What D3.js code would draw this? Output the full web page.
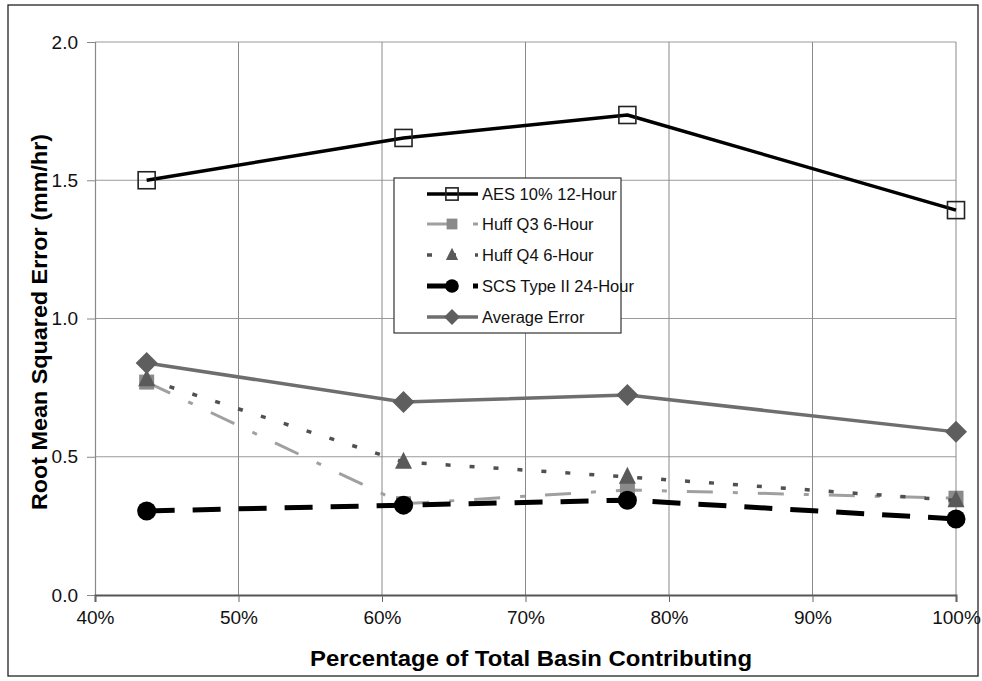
<!DOCTYPE html>
<html><head><meta charset="utf-8">
<script src="https://cdn.jsdelivr.net/npm/d3@7"></script>
<style>html,body{margin:0;padding:0;background:#fff;}svg{display:block;}</style>
</head><body>
<script>
// ---- data ----
const xValues = [43.6, 61.5, 77.1, 100];
const aes = [1.50, 1.653, 1.736, 1.392];
const huffQ3 = [0.77, 0.33, 0.38, 0.35];
const huffQ4 = [0.78, 0.481, 0.427, 0.342];
const scs = [0.304, 0.325, 0.343, 0.275];
const avgErr = [0.839, 0.698, 0.723, 0.59];
const seriesNames = ["AES 10% 12-Hour","Huff Q3 6-Hour","Huff Q4 6-Hour","SCS Type II 24-Hour","Average Error"];
const xTicks = [40,50,60,70,80,90,100];
const yTicks = [0,0.5,1.0,1.5,2.0];

const W = 982, H = 681;
const svg = d3.select("body").append("svg").attr("width", W).attr("height", H);
const font = "'Liberation Sans', Arial, Helvetica, sans-serif";

// outer frame
svg.append("rect").attr("x", 8).attr("y", 5).attr("width", 970).attr("height", 671)
  .attr("fill", "none").attr("stroke", "#222").attr("stroke-width", 1.3);

const x = d3.scaleLinear().domain([40, 100]).range([95, 956]);
const y = d3.scaleLinear().domain([0, 2]).range([595, 42]);

// gridlines
const grid = svg.append("g");
grid.selectAll("line.h").data(yTicks.filter(d=>d>0)).join("line")
  .attr("x1", x(40)).attr("x2", x(100)).attr("y1", d=>y(d)).attr("y2", d=>y(d))
  .attr("stroke", "#9a9a9a").attr("stroke-width", 1);
grid.selectAll("line.v").data(xTicks.filter(d=>d>40)).join("line")
  .attr("x1", d=>x(d)).attr("x2", d=>x(d)).attr("y1", y(0)).attr("y2", y(2))
  .attr("stroke", "#8a8a8a").attr("stroke-width", 1);

// axes
const yAxis = d3.axisLeft(y).tickValues(yTicks).tickFormat(d3.format(".1f")).tickSize(8).tickPadding(9);
const gy = svg.append("g").attr("transform", `translate(${x(40)},0)`).call(yAxis);
gy.select(".domain").attr("stroke", "#888").attr("stroke-width", 1.2);
gy.selectAll(".tick line").attr("stroke", "#888");
gy.selectAll("text").attr("font-family", font).attr("font-size", 19).attr("fill", "#111");

const xAxis = d3.axisBottom(x).tickValues(xTicks).tickFormat(d=>d+"%").tickSize(7).tickPadding(9);
const gx = svg.append("g").attr("transform", `translate(0,${y(0)})`).call(xAxis);
gx.select(".domain").attr("stroke", "#555").attr("stroke-width", 2);
gx.selectAll(".tick line").attr("stroke", "#666");
gx.selectAll("text").attr("font-family", font).attr("font-size", 19).attr("fill", "#111");

// axis titles
svg.append("text").attr("x", 531).attr("y", 666).attr("text-anchor", "middle")
  .attr("font-family", font).attr("font-weight", "bold").attr("font-size", 22).attr("fill", "#000")
  .attr("textLength", 442).attr("lengthAdjust", "spacingAndGlyphs")
  .text("Percentage of Total Basin Contributing");
svg.append("text").attr("transform", `translate(47,322) rotate(-90)`).attr("text-anchor", "middle")
  .attr("font-family", font).attr("font-weight", "bold").attr("font-size", 22).attr("fill", "#000")
  .attr("textLength", 376).attr("lengthAdjust", "spacingAndGlyphs")
  .text("Root Mean Squared Error (mm/hr)");

// series definitions
const series = [
  {name: seriesNames[0], vals: aes, stroke: "#000", width: 3.5, dash: null, marker: "square-open", mcol: "#222", msize: 17},
  {name: seriesNames[1], vals: huffQ3, stroke: "#a0a0a0", width: 3, dash: "26,20,5,20", marker: "square", mcol: "#8a8a8a", msize: 15},
  {name: seriesNames[2], vals: huffQ4, stroke: "#505050", width: 3.5, dash: "5,19", marker: "triangle", mcol: "#5a5a5a", msize: 17},
  {name: seriesNames[3], vals: scs, stroke: "#000", width: 5, dash: "28,18", marker: "circle", mcol: "#000", msize: 19},
  {name: seriesNames[4], vals: avgErr, stroke: "#6e6e6e", width: 3.5, dash: null, marker: "diamond", mcol: "#5e5e5e", msize: 22}
];

const line = d3.line().x(d=>x(d[0])).y(d=>y(d[1]));

function drawMarker(g, type, cx, cy, s, col) {
  if (type === "square-open") {
    g.append("rect").attr("x", cx - s/2).attr("y", cy - s/2).attr("width", s).attr("height", s)
      .attr("fill", "none").attr("stroke", col).attr("stroke-width", 1.6);
  } else if (type === "square") {
    g.append("rect").attr("x", cx - s/2).attr("y", cy - s/2).attr("width", s).attr("height", s).attr("fill", col);
  } else if (type === "triangle") {
    const h = s;
    g.append("path").attr("d", `M${cx},${cy - h*0.6} L${cx + s/2},${cy + h*0.4} L${cx - s/2},${cy + h*0.4} Z`).attr("fill", col);
  } else if (type === "circle") {
    g.append("circle").attr("cx", cx).attr("cy", cy).attr("r", s/2).attr("fill", col);
  } else if (type === "diamond") {
    g.append("path").attr("d", `M${cx},${cy - s/2} L${cx + s/2},${cy} L${cx},${cy + s/2} L${cx - s/2},${cy} Z`).attr("fill", col);
  }
}

const plot = svg.append("g");
series.forEach(s => {
  const pts = xValues.map((xv,i)=>[xv, s.vals[i]]);
  const g = plot.append("g");
  g.append("path").attr("d", line(pts)).attr("fill", "none").attr("stroke", s.stroke)
    .attr("stroke-width", s.width).attr("stroke-dasharray", s.dash).attr("stroke-linejoin", "round");
  pts.forEach(p => drawMarker(g, s.marker, x(p[0]), y(p[1]), s.msize, s.mcol));
});

// legend
const lg = svg.append("g");
lg.append("rect").attr("x", 394).attr("y", 178).attr("width", 227).attr("height", 155)
  .attr("fill", "#fff").attr("stroke", "#333").attr("stroke-width", 1.2);
const rowY = [194, 224, 255, 286, 317];
series.forEach((s,i) => {
  const yy = rowY[i];
  lg.append("line").attr("x1", 427).attr("x2", 478).attr("y1", yy).attr("y2", yy)
    .attr("stroke", s.stroke).attr("stroke-width", s.width).attr("stroke-dasharray", s.dash);
  drawMarker(lg, s.marker, 452, yy, s.msize*0.72, s.mcol);
  lg.append("text").attr("x", 482).attr("y", yy + 6).attr("font-family", font).attr("font-size", 16.5)
    .attr("fill", "#111").text(s.name);
});
</script>
</body></html>
